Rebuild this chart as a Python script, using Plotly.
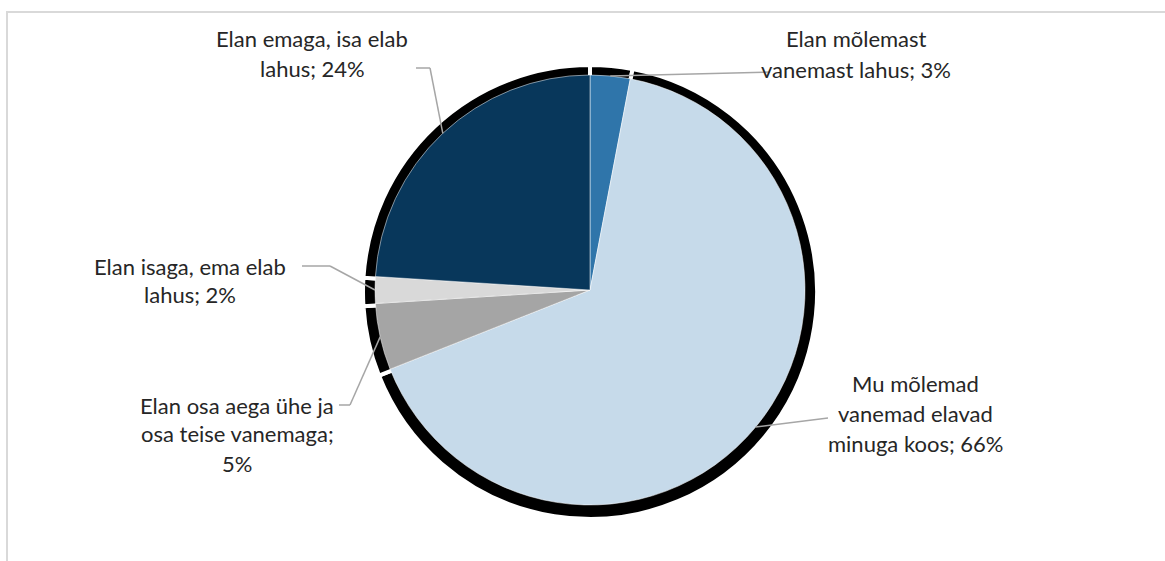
import math
import plotly.graph_objects as go

# ---- data ----
categories = [
    "Elan mõlemast vanemast lahus",
    "Mu mõlemad vanemad elavad minuga koos",
    "Elan osa aega ühe ja osa teise vanemaga",
    "Elan isaga, ema elab lahus",
    "Elan emaga, isa elab lahus",
]
values = [3, 66, 5, 2, 24]
label_lines = [
    ["Elan mõlemast", "vanemast lahus; 3%"],
    ["Mu mõlemad", "vanemad elavad", "minuga koos; 66%"],
    ["Elan osa aega ühe ja", "osa teise vanemaga;", "5%"],
    ["Elan isaga, ema elab", "lahus; 2%"],
    ["Elan emaga, isa elab", "lahus; 24%"],
]
colors = ["#2F75AA", "#C6DAEA", "#A5A5A5", "#D9D9D9", "#08375B"]

W, H = 1165, 561
CX, CY, R = 590, 290, 215          # main pie centre/radius (px)
SX, SY, SR = 590, 292, 227         # shadow pie

# label layout (px): centre x, first line y, line gap; leader path points
label_pos = [
    (856, 38, 32),
    (915, 383, 30),
    (237, 405, 29),
    (190, 266, 28),
    (312, 38, 30),
]
leader_path = [
    [(770, 72)],
    [(828, 418)],
    [(350, 405), (339, 405)],
    [(330, 266), (302, 266)],
    [(430, 68), (416, 68)],
]

FONT = "Lato"


def px(x, y):
    return x / W, 1 - y / H


def dom(cx, cy, r):
    x0, y1 = px(cx - r, cy - r)
    x1, y0 = px(cx + r, cy + r)
    return dict(x=[x0, x1], y=[y0, y1])


fig = go.Figure()
fig.add_trace(go.Pie(
    values=values, labels=categories, sort=False, direction="clockwise",
    marker=dict(colors=["#000000"] * len(values), line=dict(color="white", width=4)),
    textinfo="none", hoverinfo="skip", domain=dom(SX, SY, SR), showlegend=False,
))
fig.add_trace(go.Pie(
    values=values, labels=categories, sort=False, direction="clockwise",
    marker=dict(colors=colors, line=dict(color="white", width=0.5)),
    textinfo="none", domain=dom(CX, CY, R), showlegend=False,
))

shapes = [dict(type="rect", xref="paper", yref="paper",
               x0=7 / W, y0=-0.2, x1=1.2, y1=1 - 12 / H,
               line=dict(color="#D9D9D9", width=2), fillcolor="rgba(0,0,0,0)")]
annotations = []
total = sum(values)
cum = 0
for i, v in enumerate(values):
    mid = (cum + v / 2) / total * 2 * math.pi
    cum += v
    ax = CX + R * math.sin(mid)
    ay = CY - R * math.cos(mid)
    pts = [(ax, ay)] + leader_path[i]
    for (x0, y0), (x1, y1) in zip(pts[:-1], pts[1:]):
        a0, b0 = px(x0, y0)
        a1, b1 = px(x1, y1)
        shapes.append(dict(type="line", xref="paper", yref="paper",
                           x0=a0, y0=b0, x1=a1, y1=b1,
                           line=dict(color="#A6A6A6", width=1.5)))
    lx, ly, gap = label_pos[i]
    for j, t in enumerate(label_lines[i]):
        x, y = px(lx, ly + j * gap)
        annotations.append(dict(text=t, x=x, y=y, xref="paper", yref="paper",
                                showarrow=False, xanchor="center", yanchor="middle",
                                font=dict(family=FONT, size=22, color="#262626")))

fig.update_layout(
    width=W, height=H, margin=dict(l=0, r=0, t=0, b=0),
    paper_bgcolor="white", plot_bgcolor="white",
    shapes=shapes, annotations=annotations,
)
fig.write_html("out.html", config={"displayModeBar": False},
               post_script="document.body.style.margin='0px';document.body.style.overflow='hidden';")
